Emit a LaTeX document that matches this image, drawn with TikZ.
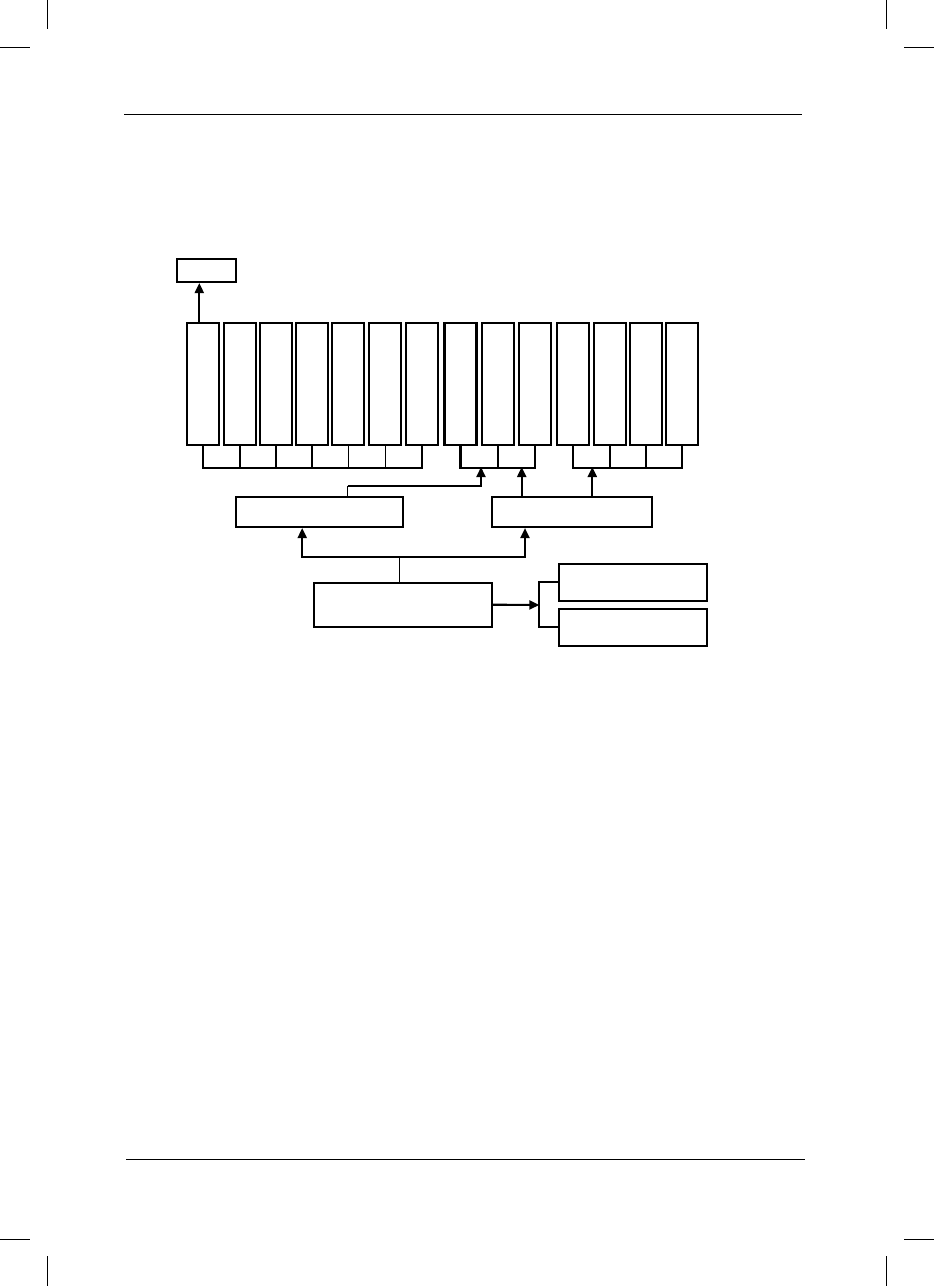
\documentclass[tikz,border=0pt]{standalone}
\usetikzlibrary{arrows.meta}

\begin{document}
\begin{tikzpicture}[x=1pt,y=-1pt,
    box/.style={draw,line width=2.1pt,inner sep=0pt},
    bus/.style={line width=2.1pt},
    thinline/.style={line width=0.9pt},
    arr/.style={-{Triangle[length=10pt,width=9pt]}},
    pageline/.style={line width=0.9pt}]
            \useasboundingbox (0,0) rectangle (934,1286);

            % Crop marks
            \draw[pageline] (47.5,0) -- (47.5,29);
            \draw[pageline] (0,47) -- (30,47);
            \draw[pageline] (886.5,0) -- (886.5,29);
            \draw[pageline] (904,47) -- (934,47);
            \draw[pageline] (0,1239) -- (30,1239);
            \draw[pageline] (47.5,1256) -- (47.5,1286);
            \draw[pageline] (904,1239) -- (934,1239);
            \draw[pageline] (886.5,1256) -- (886.5,1286);

            % Header and footer rules
            \draw[pageline] (124,114) -- (802,114);
            \draw[pageline] (126,1159.5) -- (805,1159.5);

            % Top node
            \node[box,minimum width=59pt,minimum height=23pt] (top) at (206.5,270.5) {};

            % Row of tall nodes
            \foreach \i/\x in {1/203,2/239.6,3/275.8,4/312,5/348.2,6/385,7/422.2,8/460.5,
                               9/498.2,10/535.3,11/573,12/609.6,13/646,14/682} {
                \node[box,minimum width=32pt,minimum height=122pt] (c\i) at (\x,384) {};
            }
            \draw[bus,arr] ([xshift=-3.7pt]c1.north) -- ([xshift=-3.7pt]c1.north |- top.south);

            % First group bus
            \draw[bus] (c1.south) -- ++(0,22) -| (c7.south);
            \foreach \i in {2,3,4} {
                \draw[bus] (c\i.south) -- ++(0,22);
            }
            \foreach \i in {5,6} {
                \draw[thinline] (c\i.south) -- ++(0,23);
            }

            % Second group bus
            \draw[bus] (c8.south) -- ++(0,22) -| (c10.south);
            \draw[bus] (c9.south) -- ++(0,22);

            % Third group bus
            \draw[bus] (c11.south) -- ++(0,22) -| (c14.south);
            \foreach \i in {12,13} {
                \draw[bus] (c\i.south) -- ++(0,22);
            }

            % Middle stage nodes
            \node[box,minimum width=167pt,minimum height=30pt] (lm) at (319.2,512) {};
            \node[box,minimum width=160pt,minimum height=30pt] (rm) at (572,512) {};
            \coordinate (g2a) at (481,467);
            \coordinate (g2b) at (521.7,467);
            \coordinate (g3) at (592.3,467);
            \coordinate (bend) at (347.7,486);
            \draw[thinline] (lm.north -| bend) -- (bend);
            \draw[bus,arr] (bend) -| (g2a);
            \draw[bus,arr] (rm.north -| g2b) -- (g2b);
            \draw[bus,arr] (rm.north -| g3) -- (g3);

            % Bottom stage nodes
            \node[box,minimum width=178pt,minimum height=44pt] (main) at (403,604.7) {};
            \coordinate (split) at (399.7,556.7);
            \draw[thinline] (main.north -| split) -- (split);
            \draw[bus,arr] (split) -| ([xshift=-17pt]lm.south);
            \draw[bus,arr] (split) -| ([xshift=-47pt]rm.south);

            % Right nodes
            \node[box,minimum width=148pt,minimum height=37pt] (r1) at (633,582.3) {};
            \node[box,minimum width=148pt,minimum height=37pt] (r2) at (633,627.3) {};
            \coordinate (fork) at (539.3,605);
            \draw[bus,arr] (main.east) -- (fork);
            \draw[bus] (r1.west) -| (fork) |- (r2.west);
        \end{tikzpicture}
\end{document}
